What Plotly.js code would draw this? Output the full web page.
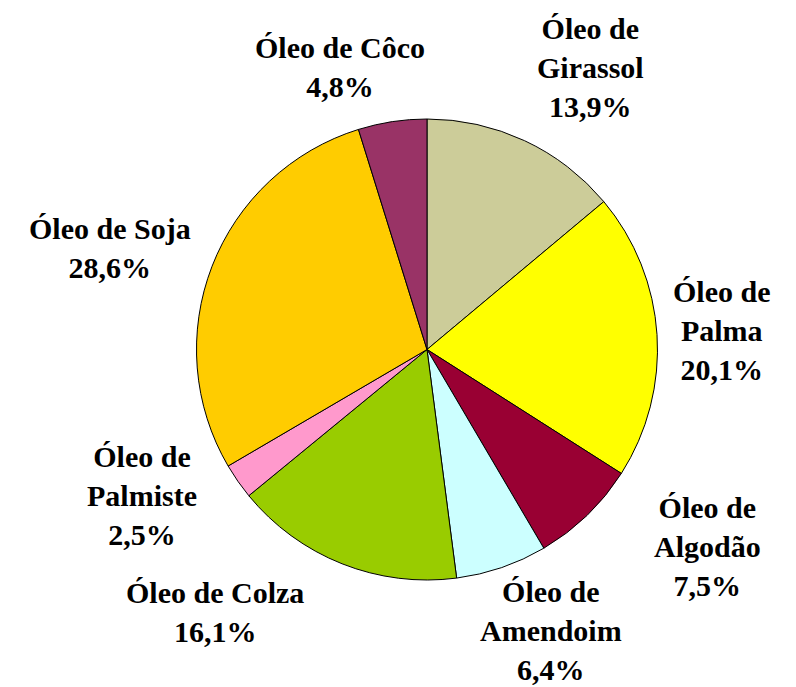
<!DOCTYPE html>
<html>
<head>
<meta charset="utf-8">
<script src="https://cdn.plot.ly/plotly-3.0.1.min.js"></script>
</head>
<body style="margin:0;background:#fff">
<div id="chart"></div>
<script>
const categories = ["Óleo de Girassol", "Óleo de Palma", "Óleo de Algodão", "Óleo de Amendoim", "Óleo de Colza", "Óleo de Palmiste", "Óleo de Soja", "Óleo de Côco"];
const labelLines = ["Óleo de<br>Girassol", "Óleo de<br>Palma", "Óleo de<br>Algodão", "Óleo de<br>Amendoim", "Óleo de Colza", "Óleo de<br>Palmiste", "Óleo de Soja", "Óleo de Côco"];
const shares = [13.9, 20.1, 7.5, 6.4, 16.1, 2.5, 28.6, 4.8];
const colors = ["#CCCC99", "#FFFF00", "#990033", "#CCFFFF", "#99CC00", "#FF99CC", "#FFCC00", "#993366"];

// label block centres (pixels) — layout only
const labelPos = [[590, 68], [722, 330], [707, 546], [551, 630], [215, 612], [142, 495], [110, 248], [340, 67]];

const W = 796, H = 687;
const mk = (t, x, y) => ({text: t, x: x, y: y, xref: "paper", yref: "paper", xanchor: "center", yanchor: "middle", showarrow: false, font: {family: "Times New Roman", size: 30, color: "#000"}});
const annotations = [];
for (let i = 0; i < categories.length; i++) {
  annotations.push(mk("<b>" + labelLines[i] + "<br>" + shares[i].toFixed(1).replace(".", ",") + "%</b>", labelPos[i][0] / W, 1 - labelPos[i][1] / H));
}

const trace = {
  type: "pie",
  labels: categories,
  values: shares,
  sort: false,
  direction: "clockwise",
  textinfo: "none",
  marker: {colors: colors, line: {color: "#000", width: 1}},
  domain: {x: [196.5 / W, 657.5 / W], y: [1 - 580 / H, 1 - 119 / H]}
};

Plotly.newPlot("chart", [trace], {width: W, height: H, margin: {l: 0, r: 0, t: 0, b: 0}, showlegend: false, annotations: annotations}, {staticPlot: true});
</script>
</body>
</html>
